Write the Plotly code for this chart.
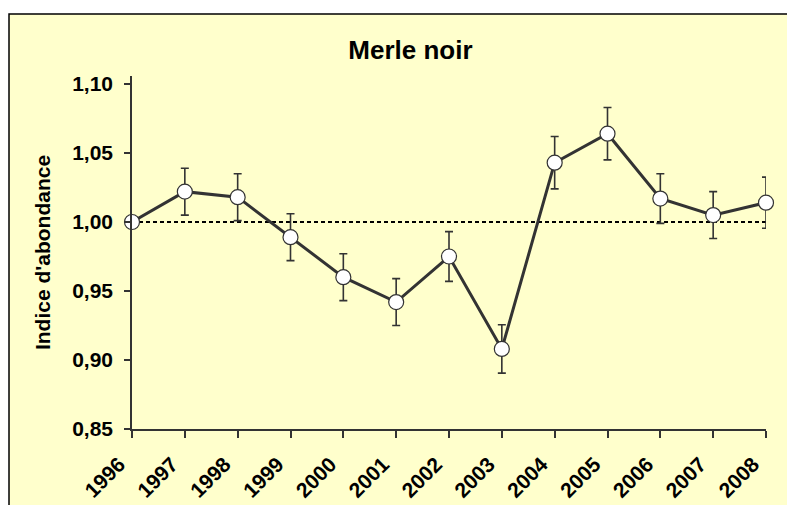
import plotly.graph_objects as go

years = [1996, 1997, 1998, 1999, 2000, 2001, 2002, 2003, 2004, 2005, 2006, 2007, 2008]
index_values = [1.000, 1.022, 1.018, 0.989, 0.960, 0.942, 0.975, 0.908, 1.043, 1.064, 1.017, 1.005, 1.014]
errors = [0.0, 0.017, 0.017, 0.017, 0.017, 0.017, 0.018, 0.0175, 0.019, 0.019, 0.018, 0.017, 0.0185]
y_ticks = [0.85, 0.90, 0.95, 1.00, 1.05, 1.10]

DARK = "#333333"
FONT = "Liberation Sans, Arial, sans-serif"

fig = go.Figure()

fig.add_trace(go.Scatter(
    x=years, y=index_values,
    mode="lines+markers",
    line=dict(color=DARK, width=3),
    marker=dict(size=15, color="white", line=dict(color=DARK, width=1.2)),
    error_y=dict(type="data", array=errors, visible=True, color=DARK, thickness=1.6, width=4),
    showlegend=False,
    cliponaxis=False,
))

# the page body adds an 8px offset; figure is sized to fill the rest of the window
W, H = 787, 497
fig.update_layout(
    width=W, height=H,
    paper_bgcolor="white",
    plot_bgcolor="rgba(0,0,0,0)",
    separators=",.",
    margin=dict(l=124, r=29, t=68, b=76, autoexpand=False),
    font=dict(family=FONT, color="black"),
    title=dict(text="<b>Merle noir</b>", x=0.5114, xanchor="center", y=0.9155, yanchor="middle",
               font=dict(size=26, family=FONT, color="black")),
    shapes=[
        dict(type="rect", xref="paper", yref="paper", x0=-0.194, x1=1.1, y0=-0.3, y1=1.1756,
             fillcolor="#FFFFCC", line=dict(color="black", width=1.5), layer="below"),
        dict(type="line", xref="x", yref="y", x0=years[0], x1=years[-1], y0=1.0, y1=1.0,
             line=dict(color="black", width=2, dash="4px,3px"), layer="below"),
    ],
)

fig.update_xaxes(
    range=[years[0], years[-1]],
    tickvals=years, ticktext=["<b>%d</b>" % y for y in years],
    tickangle=-45,
    tickfont=dict(size=21, family=FONT, color="black"),
    ticklabelshift=-13, ticklabelstandoff=6,
    automargin=False,
    showgrid=False, zeroline=False,
    showline=True, linecolor=DARK, linewidth=1.5,
    ticks="outside", ticklen=7, tickcolor=DARK, tickwidth=1.5,
)
fig.update_yaxes(
    range=[0.85, 1.1058],
    tickvals=y_ticks,
    ticktext=["<b>%s</b>" % ("%.2f" % v).replace(".", ",") for v in y_ticks],
    tickfont=dict(size=21, family=FONT, color="black"),
    ticklabelstandoff=7,
    automargin=False,
    title=dict(text="<b>Indice d'abondance</b>", font=dict(size=21, family=FONT, color="black"), standoff=16),
    showgrid=False, zeroline=False,
    showline=True, linecolor=DARK, linewidth=1.5,
    ticks="outside", ticklen=6, tickcolor=DARK, tickwidth=1.5,
)

fig.write_html("out.html")
